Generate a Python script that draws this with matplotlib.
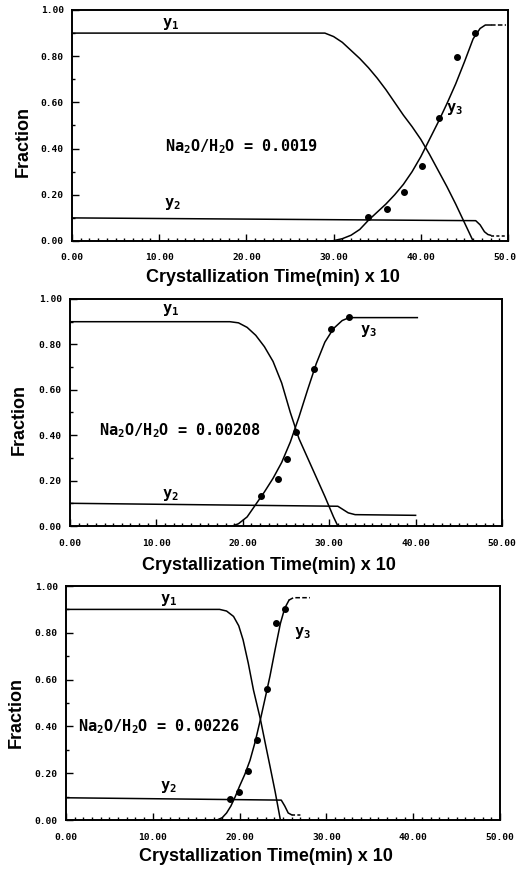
import matplotlib
matplotlib.use('Agg')
import matplotlib.pyplot as plt
from matplotlib.ticker import MultipleLocator, FormatStrFormatter

plt.rcParams['mathtext.fontset'] = 'custom'
plt.rcParams['mathtext.rm'] = 'DejaVu Sans Mono:bold'
plt.rcParams['mathtext.it'] = 'DejaVu Sans Mono:bold'
plt.rcParams['mathtext.bf'] = 'DejaVu Sans Mono:bold'

# ---- panel 1 : Na2O/H2O = 0.0019
p1_y1_x = [0, 29, 30, 31, 32, 33, 34, 35, 36, 37, 38, 39, 40, 41, 42, 43, 44, 45, 46]
p1_y1 = [0.90, 0.90, 0.885, 0.86, 0.825, 0.79, 0.75, 0.705, 0.655, 0.60, 0.545, 0.495,
         0.44, 0.375, 0.305, 0.235, 0.16, 0.08, 0.0]
p1_y2_x = [0, 46.3, 46.8, 47.3, 47.7, 48.0]
p1_y2 = [0.10, 0.088, 0.07, 0.04, 0.028, 0.025]
p1_y2_tail_x = [48.0, 49.7]
p1_y2_tail = [0.022, 0.022]
p1_y3_x = [29.8, 31, 32, 33, 34, 35, 36, 37, 38, 39, 40, 41, 42, 43, 44, 45, 46, 46.8, 47.4, 48.0]
p1_y3 = [0.0, 0.01, 0.025, 0.05, 0.09, 0.125, 0.16, 0.20, 0.245, 0.30, 0.365, 0.44,
         0.515, 0.595, 0.68, 0.775, 0.875, 0.92, 0.935, 0.935]
p1_y3_tail_x = [48.0, 49.8]
p1_y3_tail = [0.935, 0.935]
p1_pts_x = [33.97, 36.07, 38.05, 40.19, 42.1, 44.16, 46.18]
p1_pts_y = [0.102, 0.139, 0.211, 0.325, 0.531, 0.798, 0.899]

# ---- panel 2 : Na2O/H2O = 0.00208
p2_y1_x = [0, 18.5, 19.5, 20.5, 21.5, 22.5, 23.5, 24.5, 25.5, 26.5, 27.5, 28.5, 29.5, 30.5, 31.0]
p2_y1 = [0.90, 0.90, 0.895, 0.875, 0.84, 0.79, 0.725, 0.63, 0.50, 0.385, 0.30, 0.215,
         0.13, 0.04, 0.0]
p2_y2_x = [0, 31.0, 31.5, 32.2, 33.0, 40.0]
p2_y2 = [0.10, 0.087, 0.075, 0.058, 0.05, 0.047]
p2_y3_x = [18.8, 19.5, 20.5, 21.5, 22.5, 23.5, 24.5, 25.5, 26.5, 27.5, 28.5, 29.5, 30.5,
           31.5, 32.3, 40.2]
p2_y3 = [0.0, 0.01, 0.04, 0.095, 0.15, 0.21, 0.28, 0.37, 0.48, 0.60, 0.715, 0.81, 0.87,
         0.905, 0.918, 0.918]
p2_pts_x = [22.08, 24.09, 25.1, 26.18, 28.19, 30.23, 32.32]
p2_pts_y = [0.132, 0.209, 0.297, 0.415, 0.69, 0.866, 0.919]

# ---- panel 3 : Na2O/H2O = 0.00226
p3_y1_x = [0, 17.7, 18.5, 19.3, 19.9, 20.4, 21.0, 21.6, 22.4, 23.0, 23.5, 24.1, 24.7]
p3_y1 = [0.90, 0.90, 0.893, 0.87, 0.83, 0.77, 0.67, 0.555, 0.43, 0.32, 0.23, 0.12, 0.0]
p3_y2_x = [0, 24.8, 25.2, 25.6, 26.0]
p3_y2 = [0.095, 0.085, 0.06, 0.03, 0.022]
p3_y2_tail_x = [26.0, 27.2]
p3_y2_tail = [0.02, 0.02]
p3_y3_x = [17.4, 18.0, 18.5, 19.0, 19.5, 20.0, 20.6, 21.2, 21.8, 22.4, 23.0, 23.5, 24.1,
           24.7, 25.2, 25.7]
p3_y3 = [0.0, 0.01, 0.03, 0.06, 0.10, 0.145, 0.195, 0.255, 0.335, 0.43, 0.53, 0.615, 0.73,
         0.84, 0.905, 0.94]
p3_y3_tail_x = [25.7, 26.2, 28.1]
p3_y3_tail = [0.94, 0.95, 0.95]
p3_pts_x = [18.89, 19.97, 21.0, 22.04, 23.12, 24.19, 25.23]
p3_pts_y = [0.09, 0.118, 0.211, 0.342, 0.558, 0.843, 0.9]

ratios = ['0.0019', '0.00208', '0.00226']

W, H = 516, 872
fig = plt.figure(figsize=(W / 100, H / 100), dpi=100)


def make_axes(left, right, top, bottom):
    return fig.add_axes([left / W, 1 - bottom / H, (right - left) / W, (bottom - top) / H])


def style(ax, ylab_pos, xlab_pos):
    ax.set_xlim(0, 50)
    ax.set_ylim(0, 1)
    ax.xaxis.set_major_locator(MultipleLocator(10))
    ax.xaxis.set_minor_locator(MultipleLocator(1))
    ax.yaxis.set_major_locator(MultipleLocator(0.2))
    ax.yaxis.set_minor_locator(MultipleLocator(0.1))
    ax.xaxis.set_major_formatter(FormatStrFormatter('%.2f'))
    ax.yaxis.set_major_formatter(FormatStrFormatter('%.2f'))
    ax.tick_params(which='both', direction='in', top=False, right=False, width=1)
    ax.tick_params(which='major', length=5)
    ax.tick_params(which='minor', length=2.5)
    ax.tick_params(axis='x', which='major', pad=9)
    ax.tick_params(axis='y', which='major', pad=6)
    for lab in ax.get_xticklabels() + ax.get_yticklabels():
        lab.set_fontfamily('DejaVu Sans Mono')
        lab.set_fontweight('bold')
        lab.set_fontsize(6.8)
    for sp in ax.spines.values():
        sp.set_linewidth(1.4)
    ax.text(ylab_pos[0], ylab_pos[1], 'Fraction', transform=ax.transAxes, rotation=90,
            ha='center', va='center', fontsize=13, family='Liberation Sans', weight='bold')
    ax.text(xlab_pos[0], xlab_pos[1], 'Crystallization Time(min) x 10', transform=ax.transAxes,
            ha='center', va='center', fontsize=13, family='Liberation Sans', weight='bold')


def curve_labels(ax, p1, p2, p3):
    ax.text(p1[0], p1[1], r'$\mathrm{y}_1$', fontsize=11, ha='center', va='center')
    ax.text(p2[0], p2[1], r'$\mathrm{y}_2$', fontsize=11, ha='center', va='center')
    ax.text(p3[0], p3[1], r'$\mathrm{y}_3$', fontsize=11, ha='center', va='center')


lw = 1.1

# panel 1
ax1 = make_axes(72, 508, 10, 241)
ax1.plot(p1_y1_x, p1_y1, color='black', lw=lw)
ax1.plot(p1_y2_x, p1_y2, color='black', lw=lw)
ax1.plot(p1_y2_tail_x, p1_y2_tail, color='black', lw=lw, ls=(0, (2, 1.5)))
ax1.plot(p1_y3_x, p1_y3, color='black', lw=lw)
ax1.plot(p1_y3_tail_x, p1_y3_tail, color='black', lw=lw, ls=(0, (3, 1.5)))
ax1.plot(p1_pts_x, p1_pts_y, 'o', color='black', ms=4)
curve_labels(ax1, (11.3, 0.94), (11.5, 0.16), (43.9, 0.57))
ax1.text(10.7, 0.41, r'Na$_2$O/H$_2$O = ' + ratios[0], fontsize=11,
         family='DejaVu Sans Mono', weight='bold', va='center')
style(ax1, (-0.112, 0.43), (0.461, -0.156))

# panel 2
ax2 = make_axes(70, 502, 299, 526)
ax2.plot(p2_y1_x, p2_y1, color='black', lw=lw)
ax2.plot(p2_y2_x, p2_y2, color='black', lw=lw)
ax2.plot(p2_y3_x, p2_y3, color='black', lw=lw)
ax2.plot(p2_pts_x, p2_pts_y, 'o', color='black', ms=4)
curve_labels(ax2, (11.6, 0.95), (11.6, 0.135), (34.5, 0.86))
ax2.text(3.3, 0.42, r'Na$_2$O/H$_2$O = ' + ratios[1], fontsize=11,
         family='DejaVu Sans Mono', weight='bold', va='center')
style(ax2, (-0.118, 0.47), (0.461, -0.172))

# panel 3
ax3 = make_axes(66, 500, 586, 820)
ax3.plot(p3_y1_x, p3_y1, color='black', lw=lw)
ax3.plot(p3_y2_x, p3_y2, color='black', lw=lw)
ax3.plot(p3_y2_tail_x, p3_y2_tail, color='black', lw=lw, ls=(0, (2, 1.5)))
ax3.plot(p3_y3_x, p3_y3, color='black', lw=lw)
ax3.plot(p3_y3_tail_x, p3_y3_tail, color='black', lw=lw, ls=(0, (3, 1.5)))
ax3.plot(p3_pts_x, p3_pts_y, 'o', color='black', ms=4)
curve_labels(ax3, (11.8, 0.94), (11.8, 0.14), (27.3, 0.8))
ax3.text(1.4, 0.4, r'Na$_2$O/H$_2$O = ' + ratios[2], fontsize=11,
         family='DejaVu Sans Mono', weight='bold', va='center')
style(ax3, (-0.115, 0.46), (0.46, -0.158))

fig.savefig('out.png', dpi=100)
